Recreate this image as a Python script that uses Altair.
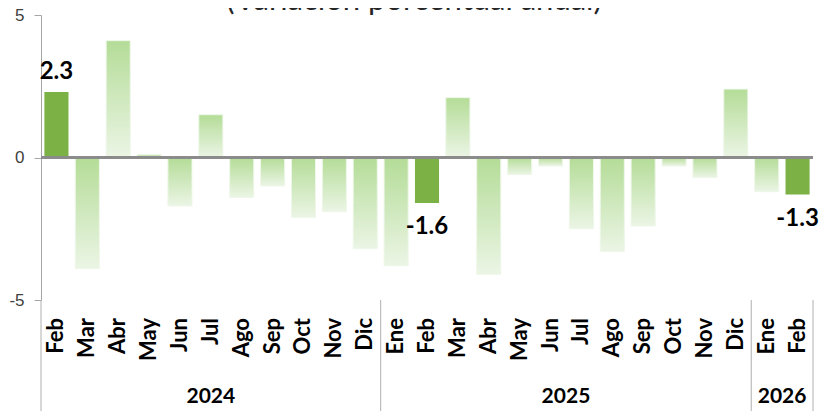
import altair as alt
import pandas as pd

# ---- data ----
months = ["Feb", "Mar", "Abr", "May", "Jun", "Jul", "Ago", "Sep", "Oct", "Nov", "Dic",
          "Ene", "Feb", "Mar", "Abr", "May", "Jun", "Jul", "Ago", "Sep", "Oct", "Nov", "Dic",
          "Ene", "Feb"]
years = ["2024"] * 11 + ["2025"] * 12 + ["2026"] * 2
values = [2.3, -3.9, 4.1, 0.1, -1.7, 1.5, -1.4, -1.0, -2.1, -1.9, -3.2,
          -3.8, -1.6, 2.1, -4.1, -0.6, -0.3, -2.5, -3.3, -2.4, -0.3, -0.7, 2.4,
          -1.2, -1.3]
highlight = [m == "Feb" for m in months]
y_ticks = [-5, 0, 5]
title_text = "(Variación porcentual anual)"

n = len(months)
df = pd.DataFrame({"mes": months, "anio": years, "valor": values,
                   "idx": list(range(n)), "dest": highlight,
                   "lab": ["%.1f" % v for v in values]})

# group boundaries and year centres
bounds = [0]
for k in range(1, n):
    if years[k] != years[k - 1]:
        bounds.append(k)
bounds.append(n)
sep_df = pd.DataFrame({"b": bounds})
year_df = pd.DataFrame({
    "anio": [years[bounds[j]] for j in range(len(bounds) - 1)],
    "c": [(bounds[j] + bounds[j + 1]) / 2 for j in range(len(bounds) - 1)],
})

W, H = 772, 285
FONT = "Lato"

xscale = alt.Scale(domain=[0, n], nice=False, zero=False)
yscale = alt.Scale(domain=[-5, 5], nice=False)

yaxis = alt.Axis(values=y_ticks, tickSize=7, tickColor="#a6a6a6", domainColor="#a6a6a6",
                 labelFontSize=17, labelFont="Liberation Sans", labelColor="#404040",
                 labelExpr="'' + datum.value",
                 labelPadding=10, grid=False, title=None)

base = alt.Chart(df).transform_calculate(
    x0="datum.idx + 0.11", x1="datum.idx + 0.89", xc="datum.idx + 0.5"
)

gradient = {"gradient": "linear", "x1": 0, "x2": 0, "y1": 0, "y2": 1,
            "stops": [{"offset": 0, "color": "#b4dc97"},
                      {"offset": 1, "color": "#ebf5e5"}]}

light = base.transform_filter("!datum.dest").mark_bar(
    color=gradient, stroke="#eef7e9", strokeWidth=1
).encode(
    x=alt.X("x0:Q", scale=xscale, axis=None),
    x2="x1:Q",
    y=alt.Y("valor:Q", scale=yscale, axis=yaxis),
    y2=alt.datum(0),
)

dark = base.transform_filter("datum.dest").mark_bar(color="#7cb145").encode(
    x=alt.X("x0:Q", scale=xscale, axis=None),
    x2="x1:Q",
    y=alt.Y("valor:Q", scale=yscale),
    y2=alt.datum(0),
)

zero_line = alt.Chart(df).mark_rule(color="#8a8a8a", strokeWidth=1.5).encode(
    y=alt.datum(0), x=alt.value(0), x2=alt.value(W)
)

lab_pos = base.transform_filter("datum.dest && datum.valor >= 0").mark_text(
    font=FONT, fontSize=24, fontWeight="bold", color="#000000",
    baseline="alphabetic", dy=-13
).encode(x=alt.X("xc:Q", scale=xscale), y=alt.Y("valor:Q", scale=yscale),
         text="lab:N")

lab_neg = base.transform_filter("datum.dest && datum.valor < 0").mark_text(
    font=FONT, fontSize=24, fontWeight="bold", color="#000000",
    baseline="alphabetic", dy=31
).encode(x=alt.X("xc:Q", scale=xscale), y=alt.Y("valor:Q", scale=yscale),
         text="lab:N")

month_labels = base.mark_text(
    font=FONT, fontSize=22, fontWeight="bold", color="#000000",
    angle=270, align="right", baseline="middle"
).encode(x=alt.X("xc:Q", scale=xscale), y=alt.value(H + 18), text="mes:N")

seps = alt.Chart(sep_df).mark_rule(color="#b0b0b0", strokeWidth=1).encode(
    x=alt.X("b:Q", scale=xscale), y=alt.value(H), y2=alt.value(H + 111)
)

year_labels = alt.Chart(year_df).mark_text(
    font=FONT, fontSize=21, fontWeight="bold", color="#000000", baseline="alphabetic"
).encode(x=alt.X("c:Q", scale=xscale), y=alt.value(H + 103), text="anio:N")

title = alt.Chart(pd.DataFrame({"t": [title_text]})).mark_text(
    font=FONT, fontSize=31, color="#262626", baseline="alphabetic", align="center"
).encode(x=alt.value(373), y=alt.value(-5), text="t:N")

chart = alt.layer(light, dark, zero_line, lab_pos, lab_neg, month_labels, seps,
                  year_labels, title).properties(
    width=W, height=H,
    autosize=alt.AutoSizeParams(type="none"),
    padding={"left": 33, "top": 7, "right": 17, "bottom": 111},
).configure_view(stroke=None)

chart.save("out.html", embed_options={"renderer": "svg", "actions": False})
